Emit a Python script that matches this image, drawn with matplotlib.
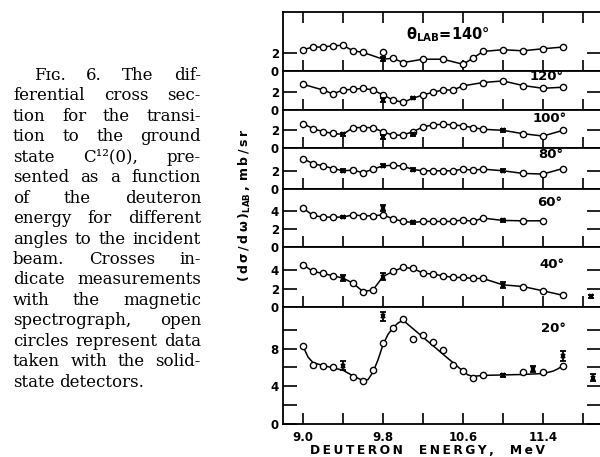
import numpy as np
import matplotlib.pyplot as plt

plt.rcParams['mathtext.fontset'] = 'dejavusans'
plt.rcParams['mathtext.default'] = 'bf'

# ---- data (deuteron energy in MeV, cross section in mb/sr)
# open circles = solid-state detectors, crosses = magnetic spectrograph
x140 = [9.0, 9.1, 9.2, 9.3, 9.4, 9.5, 9.6, 9.8, 9.9, 10.0, 10.2, 10.4, 10.6, 10.7, 10.8, 11.0, 11.2, 11.4, 11.6]
y140 = [2.38, 2.68, 2.68, 2.83, 2.87, 2.26, 2.08, 2.08, 1.43, 0.94, 1.32, 1.32, 0.75, 1.43, 2.19, 2.38, 2.26, 2.49, 2.68]
cx140 = [9.8]
cy140 = [1.32]
ce140 = [0.2]
on140 = [True]

x120 = [9.0, 9.2, 9.3, 9.4, 9.5, 9.6, 9.7, 9.8, 9.9, 10.0, 10.2, 10.3, 10.4, 10.5, 10.6, 10.8, 11.0, 11.2, 11.4, 11.6]
y120 = [2.9, 2.26, 1.81, 2.26, 2.34, 2.45, 2.26, 1.70, 1.13, 0.87, 1.70, 2.0, 2.26, 2.26, 2.72, 3.1, 3.28, 2.76, 2.45, 2.57]
cx120 = [9.8, 10.1]
cy120 = [1.13, 1.32]
ce120 = [0.2, 0.12]
on120 = [False, True]

x100 = [9.0, 9.1, 9.2, 9.3, 9.5, 9.6, 9.7, 9.8, 9.9, 10.0, 10.1, 10.2, 10.3, 10.4, 10.5, 10.6, 10.7, 10.8, 11.2, 11.4, 11.6]
y100 = [2.77, 2.19, 1.85, 1.65, 2.31, 2.31, 2.31, 1.81, 1.46, 1.46, 1.85, 2.38, 2.62, 2.69, 2.62, 2.5, 2.31, 2.12, 1.62, 1.35, 2.0]
cx100 = [9.4, 9.8, 10.1, 11.0]
cy100 = [1.54, 1.27, 1.54, 2.0]
ce100 = [0.2, 0.2, 0.2, 0.15]
on100 = [True, False, False, True]

x80 = [9.0, 9.1, 9.2, 9.3, 9.5, 9.6, 9.7, 9.9, 10.0, 10.2, 10.3, 10.4, 10.5, 10.6, 10.7, 10.8, 11.2, 11.4, 11.6]
y80 = [3.32, 2.79, 2.54, 2.25, 2.07, 1.79, 2.18, 2.61, 2.5, 2.0, 2.0, 2.0, 2.0, 2.18, 2.07, 2.18, 1.71, 1.64, 2.25]
cx80 = [9.4, 9.8, 10.1, 11.0]
cy80 = [2.0, 2.54, 2.14, 2.0]
ce80 = [0.15, 0.15, 0.15, 0.15]
on80 = [True, True, True, True]

x60 = [9.0, 9.1, 9.2, 9.3, 9.5, 9.6, 9.7, 9.8, 9.9, 10.0, 10.2, 10.3, 10.4, 10.5, 10.6, 10.7, 10.8, 11.2, 11.4]
y60 = [4.29, 3.48, 3.30, 3.30, 3.55, 3.44, 3.44, 3.55, 3.11, 2.82, 2.82, 2.82, 2.82, 2.82, 3.0, 2.82, 3.19, 2.89, 2.89]
cx60 = [9.4, 9.8, 10.1, 11.0]
cy60 = [3.3, 4.29, 2.71, 2.93]
ce60 = [0.15, 0.35, 0.2, 0.2]
on60 = [True, False, True, True]

x40 = [9.0, 9.1, 9.2, 9.3, 9.5, 9.6, 9.7, 9.9, 10.0, 10.1, 10.2, 10.3, 10.4, 10.5, 10.6, 10.7, 10.8, 11.2, 11.4, 11.6]
y40 = [4.58, 3.85, 3.64, 3.38, 2.58, 1.67, 1.85, 3.85, 4.29, 4.18, 3.67, 3.56, 3.38, 3.2, 3.2, 3.09, 3.09, 2.22, 1.75, 1.27]
cx40 = [9.4, 9.8, 11.0, 11.88]
cy40 = [3.13, 3.3, 2.4, 1.15]
ce40 = [0.3, 0.35, 0.3, 0.2]
on40 = [True, True, True, False]

x20 = [9.0, 9.1, 9.2, 9.3, 9.5, 9.6, 9.7, 9.8, 9.9, 10.0, 10.1, 10.2, 10.3, 10.4, 10.5, 10.6, 10.7, 10.8, 11.2, 11.4, 11.6]
y20 = [8.25, 6.30, 6.19, 6.02, 4.96, 4.53, 5.70, 8.60, 10.2, 11.08, 9.0, 9.47, 8.67, 7.79, 6.30, 5.66, 4.88, 5.24, 5.49, 5.49, 6.19]
cx20 = [9.4, 9.8, 11.0, 11.3, 11.6, 11.9]
cy20 = [6.2, 11.4, 5.17, 5.84, 7.2, 4.9]
ce20 = [0.5, 0.45, 0.15, 0.35, 0.55, 0.35]
on20 = [False, False, False, False, False, False]
# hand-drawn guide curve of the 20 deg panel
lx20 = [9.0, 9.05, 9.1, 9.2, 9.3, 9.4, 9.5, 9.6, 9.65, 9.7, 9.75, 9.8, 9.85, 9.9, 9.95, 10.0,
        10.6, 10.65, 10.7, 10.8, 11.0, 11.2, 11.4, 11.5, 11.55, 11.6]
ly20 = [8.25, 7.1, 6.5, 6.2, 5.95, 5.7, 5.1, 4.6, 4.7, 5.5, 6.8, 8.4, 9.5, 10.2, 10.7, 11.0,
        5.6, 5.2, 5.05, 5.15, 5.2, 5.25, 5.35, 5.6, 5.85, 6.2]

angles = ['$\\theta_{LAB}$=140°', '120°', '100°', '80°', '60°', '40°', '20°']
xticks = [9.0, 9.4, 9.8, 10.2, 10.6, 11.0, 11.4, 11.8]
xticklabels = ['9.0', '', '9.8', '', '10.6', '', '11.4', '']

panels = [
    (x140, y140, cx140, cy140, ce140, on140),
    (x120, y120, cx120, cy120, ce120, on120),
    (x100, y100, cx100, cy100, ce100, on100),
    (x80, y80, cx80, cy80, ce80, on80),
    (x60, y60, cx60, cy60, ce60, on60),
    (x40, y40, cx40, cy40, ce40, on40),
    (x20, y20, cx20, cy20, ce20, on20),
]

# layout in pixels of the 600x457 picture
W, H = 600, 457
tops = [12, 71, 110, 148, 189, 247, 307]
bots = [71, 110, 148, 189, 247, 307, 424]
ymax = [6.6, 4.4, 4.3, 4.5, 6.4, 6.5, 12.4]
yticks = [[0, 2], [0, 2], [0, 2], [0, 2], [0, 2, 4], [0, 2, 4], [0, 2, 4, 6, 8, 10]]
ylabels = [['0', '2'], ['0', '2'], ['0', '2'], ['0', '2'], ['0', '2', '4'], ['0', '2', '4'],
           ['0', '', '4', '', '8', '']]
label_pos = [(448, 35), (547, 77), (550, 118), (551, 155), (550, 202), (552, 264), (553, 329)]


def fx(px):
    return px / W


def fy(py):
    return 1 - py / H


fig = plt.figure(figsize=(6, 4.57), dpi=100)

for i, (cxs, cys, ex, ey, ee, on) in enumerate(panels):
    ax = fig.add_axes([fx(283), fy(bots[i]), fx(601) - fx(283), fy(tops[i]) - fy(bots[i])])
    ax.set_xlim(8.80, 11.98)
    ax.set_ylim(0, ymax[i])
    for s in ax.spines.values():
        s.set_linewidth(1.3)

    # guide line
    if i == 6:
        lx, ly = lx20, ly20
    else:
        line_x = [x for x, o in zip(ex, on) if o]
        pts = [(x, y) for x, y, o in zip(ex, ey, on) if o]
        pts += [(x, y) for x, y in zip(cxs, cys) if x not in line_x]
        pts.sort()
        lx = [p[0] for p in pts]
        ly = [p[1] for p in pts]
    ax.plot(lx, ly, color='black', lw=1.1, zorder=2)

    ax.plot(cxs, cys, 'o', ms=4.5, mfc='white', mec='black', mew=1.0, zorder=3)
    ax.errorbar(ex, ey, yerr=ee, fmt='none', ecolor='black', elinewidth=1.3,
                capsize=2.3, capthick=1.3, zorder=4)
    ax.plot(ex, ey, 'x', ms=3.5, mew=1.5, color='black', zorder=4)

    ax.set_xticks(xticks)
    if i == 6:
        ax.set_xticklabels(xticklabels, fontsize=8.5, fontweight='bold')
    else:
        ax.set_xticklabels([])
    ax.tick_params(axis='x', direction='in', length=8, width=1.2, top=(i == 0), bottom=True, pad=5)
    ax.set_yticks(yticks[i])
    ax.set_yticklabels(ylabels[i], fontsize=8.5, fontweight='bold')
    ax.tick_params(axis='y', direction='in', length=10, width=1.2, left=True, right=True, pad=3)

    lx_, ly_ = label_pos[i]
    fs = 10.5 if i == 0 else 9.5
    fig.text(fx(lx_), fy(ly_), angles[i], fontsize=fs, fontweight='bold',
             ha='center', va='center')

ts = '\u2009'
ylab = ts.join('(dσ/dω)') + '$_{LAB}$' + ts + ',' + ts * 2 + ts.join('mb/sr')
fig.text(fx(245), fy(205), ylab, rotation=90,
         fontsize=9, fontweight='bold', ha='center', va='center')
fig.text(fx(428), fy(451), ts.join('DEUTERON  ENERGY,  MeV'), fontsize=8.8,
         fontweight='bold', ha='center', va='center')

# ---- caption on the left, justified like the printed page
caption = [
    'Fɪɢ. 6. The dif-',
    'ferential cross sec-',
    'tion for the transi-',
    'tion to the ground',
    'state C¹²(0), pre-',
    'sented as a function',
    'of the deuteron',
    'energy for different',
    'angles to the incident',
    'beam. Crosses in-',
    'dicate measurements',
    'with the magnetic',
    'spectrograph, open',
    'circles represent data',
    'taken with the solid-',
    'state detectors.',
]
serif = ['DejaVu Serif', 'DejaVu Sans']
renderer = fig.canvas.get_renderer()
for i, line in enumerate(caption):
    words = line.split(' ')
    x0 = 34 if i == 0 else 13
    x1 = 201
    base = 80 + 20.45 * i
    texts = [fig.text(0, 0, w, fontsize=12, family=serif, ha='left', va='baseline') for w in words]
    widths = [t.get_window_extent(renderer).width for t in texts]
    if i == len(caption) - 1:
        gap = 5
    else:
        gap = (x1 - x0 - sum(widths)) / (len(words) - 1)
    x = x0
    for t, w in zip(texts, widths):
        t.set_position((fx(x), fy(base)))
        x += w + gap

fig.savefig('out.png', dpi=100)
